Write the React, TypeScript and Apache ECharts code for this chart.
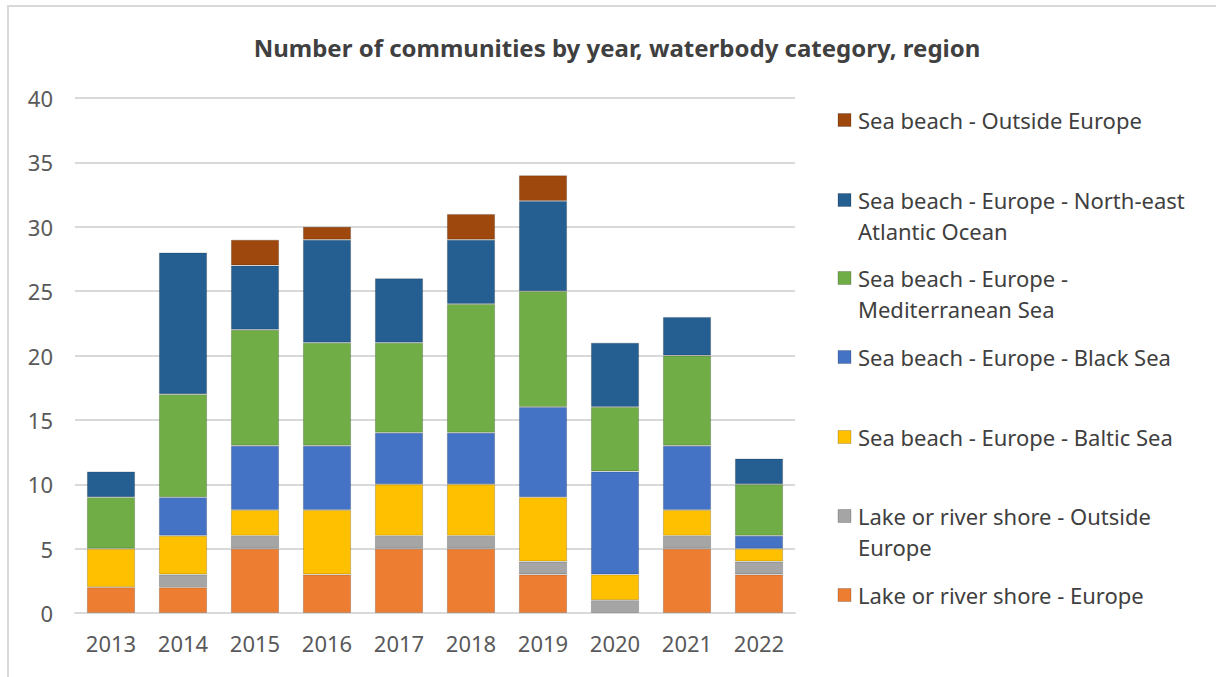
import React, { useEffect, useRef } from "react";
import * as echarts from "echarts";

const years = ["2013", "2014", "2015", "2016", "2017", "2018", "2019", "2020", "2021", "2022"];

const lakeEurope = [2, 2, 5, 3, 5, 5, 3, 0, 5, 3];
const lakeOutside = [0, 1, 1, 0, 1, 1, 1, 1, 1, 1];
const seaBaltic = [3, 3, 2, 5, 4, 4, 5, 2, 2, 1];
const seaBlack = [0, 3, 5, 5, 4, 4, 7, 8, 5, 1];
const seaMed = [4, 8, 9, 8, 7, 10, 9, 5, 7, 4];
const seaAtlantic = [2, 11, 5, 8, 5, 5, 7, 5, 3, 2];
const seaOutside = [0, 0, 2, 1, 0, 2, 2, 0, 0, 0];

const seriesDefs = [
  { name: "Lake or river shore - Europe", data: lakeEurope, color: "#ED7D31" },
  { name: "Lake or river shore - Outside Europe", data: lakeOutside, color: "#A5A5A5" },
  { name: "Sea beach - Europe - Baltic Sea", data: seaBaltic, color: "#FFC000" },
  { name: "Sea beach - Europe - Black Sea", data: seaBlack, color: "#4472C4" },
  { name: "Sea beach - Europe - Mediterranean Sea", data: seaMed, color: "#70AD47" },
  { name: "Sea beach - Europe - North-east Atlantic Ocean", data: seaAtlantic, color: "#255E91" },
  { name: "Sea beach - Outside Europe", data: seaOutside, color: "#9E480E" },
];

// legend labels as wrapped in the reference (top to bottom)
const legendLines = [
  ["Sea beach - Outside Europe"],
  ["Sea beach - Europe - North-east", "Atlantic Ocean"],
  ["Sea beach - Europe -", "Mediterranean Sea"],
  ["Sea beach - Europe - Black Sea"],
  ["Sea beach - Europe - Baltic Sea"],
  ["Lake or river shore - Outside", "Europe"],
  ["Lake or river shore - Europe"],
];
const legendColors = ["#9E480E", "#255E91", "#70AD47", "#4472C4", "#FFC000", "#A5A5A5", "#ED7D31"];
const legendY = [120, 200, 278, 357, 437, 516, 595];

const FONT = "'Noto Sans', sans-serif";

export default function App() {
  const ref = useRef<HTMLDivElement>(null);
  useEffect(() => {
    document.body.style.margin = "0";
    if (!ref.current) return;
    const chart = echarts.init(ref.current, null, { renderer: "svg" });

    const legendGraphics: any[] = [];
    legendLines.forEach((lines, i) => {
      const cy = legendY[i];
      legendGraphics.push({
        type: "rect",
        shape: { x: 838, y: cy - 6.5, width: 13, height: 13 },
        style: { fill: legendColors[i], stroke: "rgba(0,0,0,0.2)", lineWidth: 1 },
      });
      legendGraphics.push({
        type: "text",
        x: 858,
        y: cy - 16,
        style: {
          text: lines.join("\n"),
          font: `22px ${FONT}`,
          fill: "#404040",
          lineHeight: 31,
          verticalAlign: "top",
          align: "left",
        },
      });
    });

    chart.setOption({
      animation: false,
      backgroundColor: "#ffffff",
      textStyle: { fontFamily: FONT },
      title: {
        text: "Number of communities by year, waterbody category, region",
        left: 612,
        top: 30,
        textAlign: "center",
        textStyle: { fontFamily: FONT, fontSize: 24, fontWeight: "bold", color: "#404040" },
      },
      grid: { left: 75, right: 421, top: 98, bottom: 64, containLabel: false },
      xAxis: {
        type: "category",
        data: years,
        axisLine: { show: true, lineStyle: { color: "#D9D9D9", width: 2 } },
        axisTick: { show: false },
        axisLabel: { fontSize: 22, color: "#595959", margin: 19, fontFamily: FONT },
      },
      yAxis: {
        type: "value",
        min: 0,
        max: 40,
        interval: 5,
        axisLine: { show: false },
        axisTick: { show: false },
        axisLabel: { fontSize: 22, color: "#595959", margin: 22, fontFamily: FONT },
        splitLine: { lineStyle: { color: "#D9D9D9", width: 2 } },
      },
      series: seriesDefs.map((s) => ({
        type: "bar",
        name: s.name,
        stack: "total",
        barCategoryGap: "33%",
        data: s.data.map((v) => (v === 0 ? null : v)),
        itemStyle: { color: s.color, borderColor: "rgba(0,0,0,0.18)", borderWidth: 1 },
      })),
      graphic: [
        {
          type: "rect",
          shape: { x: 8, y: 6, width: 1220, height: 680 },
          style: { fill: "none", stroke: "#D9D9D9", lineWidth: 2 },
          silent: true,
        },
        ...legendGraphics,
      ],
    });
    return () => chart.dispose();
  }, []);
  return <div ref={ref} style={{ width: 1216, height: 677 }} />;
}
